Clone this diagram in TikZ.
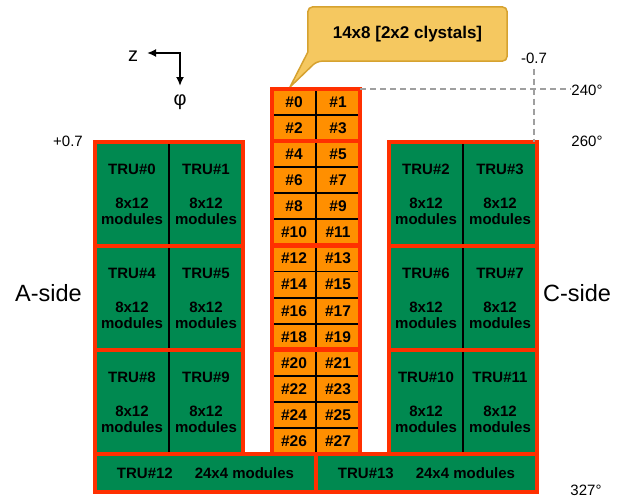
\documentclass[tikz,border=0pt]{standalone}
\usepackage{fontspec}
\setmainfont{Liberation Sans}
\usepackage{tikz}
\usetikzlibrary{backgrounds,arrows.meta}
\definecolor{truGreen}{RGB}{0,137,80}
\definecolor{xtalOrange}{RGB}{255,143,0}
\definecolor{frameRed}{RGB}{255,48,0}
\definecolor{noteFill}{RGB}{245,200,96}
\definecolor{noteEdge}{RGB}{214,162,48}
\newcommand{\truFont}[0]{\fontsize{15}{16}\selectfont\bfseries}
\newcommand{\xtalFont}[0]{\fontsize{15.5}{16}\selectfont\bfseries}
\newcommand{\truText}[1]{TRU\##1\\[18pt]8x12\\modules}

\begin{document}
\begin{tikzpicture}[x=1pt, y=-1pt, >={Latex[length=9pt,width=8pt]}]
  \tikzset{trubox/.style={draw=black,line width=1.8pt,fill=truGreen,minimum width=74pt,minimum height=104pt,
      inner sep=0pt,outer sep=0pt,align=center,font=\truFont}}
  \tikzset{barbox/.style={trubox,draw=frameRed,line width=4.5pt,minimum width=221pt,minimum height=38pt}}
  \tikzset{xtalbox/.style={draw=black,line width=1.8pt,fill=xtalOrange,minimum width=44pt,minimum height=26.07pt,
      inner sep=0pt,outer sep=0pt,font=\xtalFont}}
  \tikzset{frame/.style={draw=frameRed,line width=4.5pt}}
  \tikzset{dashline/.style={draw=gray!75,line width=1.2pt,dash pattern=on 6pt off 4pt}}
  \tikzset{tag/.style={font=\fontsize{15}{18}\selectfont,inner sep=0pt}}
  \tikzset{side/.style={font=\fontsize{23.5}{28}\selectfont,inner sep=0pt}}
  \useasboundingbox (0,0) rectangle (618,498);
  % A-side TRUs
  \node[trubox] (t0) at (132,194) {\truText{0}};
  \node[trubox] (t1) at (206,194) {\truText{1}};
  \node[trubox] (t4) at (132,298) {\truText{4}};
  \node[trubox] (t5) at (206,298) {\truText{5}};
  \node[trubox] (t8) at (132,402) {\truText{8}};
  \node[trubox] (t9) at (206,402) {\truText{9}};
  % C-side TRUs
  \node[trubox] (t2) at (426,194) {\truText{2}};
  \node[trubox] (t3) at (500,194) {\truText{3}};
  \node[trubox] (t6) at (426,298) {\truText{6}};
  \node[trubox] (t7) at (500,298) {\truText{7}};
  \node[trubox] (t10) at (426,402) {\truText{10}};
  \node[trubox] (t11) at (500,402) {\truText{11}};
  % crystal column
  \node[xtalbox] (x0) at (294,102.0) {\#0};   \node[xtalbox] (x1) at (338,102.0) {\#1};
  \node[xtalbox] (x2) at (294,128.1) {\#2};   \node[xtalbox] (x3) at (338,128.1) {\#3};
  \node[xtalbox] (x4) at (294,154.2) {\#4};   \node[xtalbox] (x5) at (338,154.2) {\#5};
  \node[xtalbox] (x6) at (294,180.3) {\#6};   \node[xtalbox] (x7) at (338,180.3) {\#7};
  \node[xtalbox] (x8) at (294,206.4) {\#8};   \node[xtalbox] (x9) at (338,206.4) {\#9};
  \node[xtalbox] (x10) at (294,232.4) {\#10}; \node[xtalbox] (x11) at (338,232.4) {\#11};
  \node[xtalbox] (x12) at (294,258.5) {\#12}; \node[xtalbox] (x13) at (338,258.5) {\#13};
  \node[xtalbox] (x14) at (294,284.6) {\#14}; \node[xtalbox] (x15) at (338,284.6) {\#15};
  \node[xtalbox] (x16) at (294,310.7) {\#16}; \node[xtalbox] (x17) at (338,310.7) {\#17};
  \node[xtalbox] (x18) at (294,336.7) {\#18}; \node[xtalbox] (x19) at (338,336.7) {\#19};
  \node[xtalbox] (x20) at (294,362.8) {\#20}; \node[xtalbox] (x21) at (338,362.8) {\#21};
  \node[xtalbox] (x22) at (294,388.9) {\#22}; \node[xtalbox] (x23) at (338,388.9) {\#23};
  \node[xtalbox] (x24) at (294,415.0) {\#24}; \node[xtalbox] (x25) at (338,415.0) {\#25};
  \node[xtalbox] (x26) at (294,441.0) {\#26}; \node[xtalbox] (x27) at (338,441.0) {\#27};
  % bottom TRUs
  \node[barbox] (t12) at (205.5,473) {TRU\#12\hspace{22pt}24x4 modules};
  \node[barbox] (t13) at (426.5,473) {TRU\#13\hspace{22pt}24x4 modules};
  % red frames
  \draw[frame] (t0.north west) rectangle (t1.south east);
  \draw[frame] (t4.north west) rectangle (t5.south east);
  \draw[frame] (t8.north west) rectangle (t9.south east);
  \draw[frame] (t2.north west) rectangle (t3.south east);
  \draw[frame] (t6.north west) rectangle (t7.south east);
  \draw[frame] (t10.north west) rectangle (t11.south east);
  \draw[frame] (x0.north west) rectangle (x3.south east);
  \draw[frame] (x4.north west) rectangle (x11.south east);
  \draw[frame] (x12.north west) rectangle (x19.south east);
  \draw[frame] (x20.north west) rectangle (x27.south east);
  % callout
  \node[font=\fontsize{17}{20}\selectfont\bfseries,minimum width=199pt,minimum height=54pt] (note) at (407.5,34) {14x8 [2x2 clystals]};
  \coordinate (tip) at (290,87);
  \begin{scope}[on background layer]
    \draw[fill=noteFill,draw=noteEdge,line width=1.5pt] ([yshift=9pt]note.south west) [rounded corners=5pt]
      -- (note.north west) -- (note.north east) -- (note.south east) -- ([xshift=9pt]note.south west)
      [sharp corners] -- (tip) -- cycle;
  \end{scope}
  % axes
  \coordinate (axo) at (180,53);
  \coordinate (axz) at (147,53);
  \coordinate (axp) at (180,86);
  \draw[<->,line width=1.8pt] (axz) -- (axo) -- (axp);
  \node[font=\fontsize{20}{22}\selectfont] (zlbl) at (133,56) {z};
  \node[font=\fontsize{20}{22}\selectfont] (philbl) at (180,102) {φ};
  % eta and phi marks
  \node[tag] (p07) at (68,141) {+0.7};
  \node[tag] (m07) at (534,58) {-0.7};
  \node[tag] (deg240) at (587,90) {240°};
  \node[tag] (deg260) at (587,141) {260°};
  \node[tag] (deg327) at (586,490) {327°};
  \draw[dashline] (x1.north east) -- (x1.north east -| deg240.west);
  \draw[dashline,shorten <=5pt] (m07.south) -- (m07.south |- t3.north);
  % sides
  \node[side] (aside) at (48.5,293) {A-side};
  \node[side] (cside) at (577,293) {C-side};
\end{tikzpicture}
\end{document}
